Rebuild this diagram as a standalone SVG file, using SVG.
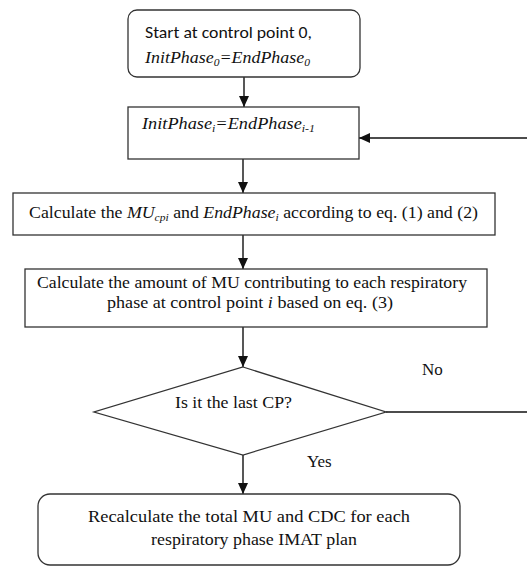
<svg xmlns="http://www.w3.org/2000/svg" width="527" height="566" viewBox="0 0 527 566">
<style>
.box{fill:#fff;stroke:#333;stroke-width:1.3}
.ln{fill:none;stroke:#111;stroke-width:1.4}
.t{font-family:"Liberation Serif","Times New Roman",serif;font-size:17px;fill:#111}
.s{font-family:Carlito,"Liberation Sans",Arial,sans-serif;font-size:17px;fill:#111}
.i{font-style:italic}
.sub{font-size:11px}
</style>
<defs>
<marker id="ah" markerWidth="12" markerHeight="12" refX="11" refY="6" orient="auto" markerUnits="userSpaceOnUse">
<path d="M0,1 L11,6 L0,11 Z" fill="#111"/>
</marker>
</defs>
<rect width="527" height="566" fill="#fff"/>
<g id="connectors">
<line class="ln" x1="244" y1="77" x2="244" y2="107" marker-end="url(#ah)"/>
<line class="ln" x1="243" y1="159" x2="243" y2="193" marker-end="url(#ah)"/>
<line class="ln" x1="243" y1="235" x2="243" y2="269" marker-end="url(#ah)"/>
<line class="ln" x1="243" y1="327" x2="243" y2="367" marker-end="url(#ah)"/>
<line class="ln" x1="243" y1="455" x2="243" y2="494" marker-end="url(#ah)"/>
<line class="ln" x1="386" y1="412" x2="527" y2="412"/>
<line class="ln" x1="527" y1="138" x2="359" y2="138" marker-end="url(#ah)"/>
<text class="t" x="422" y="375">No</text>
<text class="t" x="307" y="467">Yes</text>
</g>
<g id="start">
<rect class="box" x="128" y="10" width="232" height="67" rx="9"/>
<text class="s" x="145" y="38" textLength="167" lengthAdjust="spacingAndGlyphs">Start at control point 0,</text>
<text class="t i" x="145" y="63" textLength="165" lengthAdjust="spacingAndGlyphs">InitPhase<tspan class="sub" dy="3">0</tspan><tspan dy="-3">=EndPhase</tspan><tspan class="sub" dy="3">0</tspan></text>
</g>
<g id="init">
<rect class="box" x="128" y="107" width="231" height="52"/>
<text class="t i" x="142" y="129" textLength="173" lengthAdjust="spacingAndGlyphs">InitPhase<tspan class="sub" dy="3">i</tspan><tspan dy="-3">=EndPhase</tspan><tspan class="sub" dy="3">i-1</tspan></text>
</g>
<g id="calc-mu">
<rect class="box" x="13" y="193" width="482" height="42"/>
<text class="t" x="29" y="218" textLength="449" lengthAdjust="spacingAndGlyphs">Calculate the <tspan class="i">MU</tspan><tspan class="sub i" dy="3">cpi</tspan><tspan dy="-3"> and </tspan><tspan class="i">EndPhase</tspan><tspan class="sub i" dy="3">i</tspan><tspan dy="-3"> according to eq. (1) and (2)</tspan></text>
</g>
<g id="calc-phase">
<rect class="box" x="25" y="269" width="462" height="58"/>
<text class="t" x="37" y="288" textLength="430" lengthAdjust="spacingAndGlyphs">Calculate the amount of MU contributing to each respiratory</text>
<text class="t" x="107" y="308" textLength="286" lengthAdjust="spacingAndGlyphs">phase at control point <tspan class="i">i</tspan> based on eq. (3)</text>
</g>
<g id="decision">
<polygon class="box" points="243,367 386,412 243,455 94,412"/>
<text class="t" x="175" y="408" textLength="117" lengthAdjust="spacingAndGlyphs">Is it the last CP?</text>
</g>
<g id="recalc">
<rect class="box" x="38" y="494" width="422" height="71" rx="12"/>
<text class="t" x="88" y="522" textLength="322" lengthAdjust="spacingAndGlyphs">Recalculate the total MU and CDC for each</text>
<text class="t" x="151" y="545" textLength="206" lengthAdjust="spacingAndGlyphs">respiratory phase IMAT plan</text>
</g>
</svg>
